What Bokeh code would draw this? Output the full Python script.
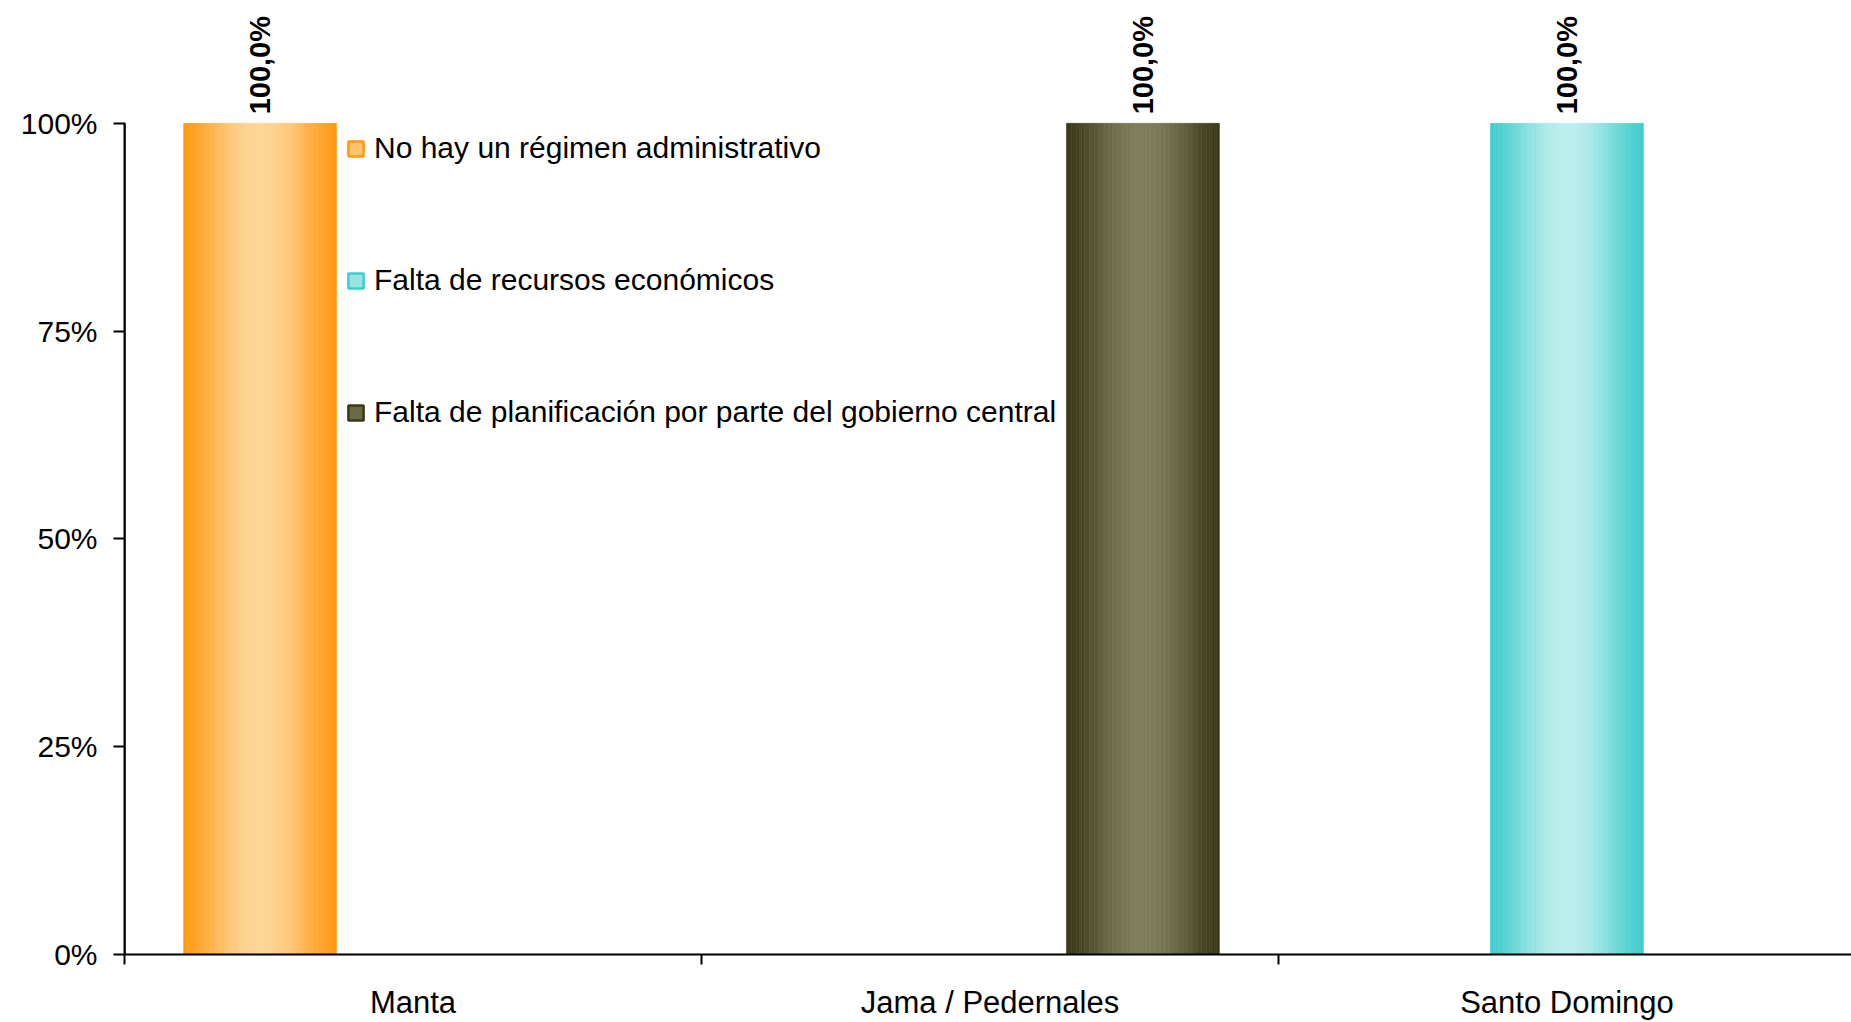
import math
from bokeh.plotting import figure
from bokeh.models import Range1d, FixedTicker, Legend, LegendItem, ColumnDataSource
from bokeh.embed import file_html
from bokeh.resources import INLINE
from bokeh.core.properties import value

# ---------------- data ----------------
categories = ["Manta", "Jama / Pedernales", "Santo Domingo"]
series_names = [
    "No hay un régimen administrativo",
    "Falta de recursos económicos",
    "Falta de planificación por parte del gobierno central",
]
no_regimen = [1.0, 0.0, 0.0]
falta_recursos = [0.0, 0.0, 1.0]
falta_planificacion = [0.0, 1.0, 0.0]
y_ticks = [0.0, 0.25, 0.5, 0.75, 1.0]
y_tick_labels = ["0%", "25%", "50%", "75%", "100%"]

series_values = [no_regimen, falta_recursos, falta_planificacion]

# ---------------- styles ----------------
FONT = "Liberation Sans"
edge_colors = [(255, 153, 18), (62, 206, 204), (58, 58, 24)]
center_colors = [(253, 213, 150), (187, 238, 237), (125, 125, 90)]
bar_w = 0.265
offsets = [-bar_w, 0.0, bar_w]
N_STRIPS = 60

W, H = 1851, 1022
LEFT, BOTTOM = 124, 67
PX_PER_CAT = 577.0
PX_PER_UNIT = 832.0
x_end = (W - LEFT) / PX_PER_CAT
y_end = (H - BOTTOM) / PX_PER_UNIT

p = figure(
    width=W, height=H,
    x_range=Range1d(0, x_end), y_range=Range1d(0, y_end),
    output_backend="svg", toolbar_location=None,
    min_border_left=LEFT, min_border_right=0,
    min_border_top=0, min_border_bottom=BOTTOM,
)
p.outline_line_color = None
p.xgrid.grid_line_color = None
p.ygrid.grid_line_color = None
p.background_fill_color = "white"
p.border_fill_color = "white"


def hexcol(c):
    return "#%02x%02x%02x" % tuple(int(round(v)) for v in c)


def mix(a, b, t):
    return tuple(a[i] + (b[i] - a[i]) * t for i in range(3))


idx = list(range(len(categories)))
legend_items = []
for s, vals in enumerate(series_values):
    e, c = edge_colors[s], center_colors[s]
    # gradient strips
    for k in range(N_STRIPS):
        u = (k + 0.5) / N_STRIPS
        t = math.sin(math.pi * u) ** 1.4
        col = hexcol(mix(e, c, t))
        xs = [i + 0.5 + offsets[s] - bar_w / 2 + u * bar_w for i in idx]
        src = ColumnDataSource(dict(x=xs, top=vals))
        p.vbar(x="x", top="top", bottom=0, width=bar_w / N_STRIPS, source=src,
               fill_color=col, line_color=col, line_width=0.6)
    # legend proxy (placed outside the visible range)
    proxy = p.vbar(x=[-10], top=[1], width=bar_w, fill_color=hexcol(mix(e, c, 0.7)),
                   line_color=hexcol(e), line_width=2.5)
    legend_items.append(LegendItem(label=series_names[s], renderers=[proxy]))

    # value labels
    lx, ly, lt = [], [], []
    for i in idx:
        if vals[i] > 0:
            lx.append(i + 0.5 + offsets[s])
            ly.append(vals[i])
            lt.append(("%.1f%%" % (vals[i] * 100)).replace(".", ","))
    p.text(x=lx, y=ly, text=lt, angle=math.pi / 2, text_align="left",
           text_baseline="middle", y_offset=-9, text_font=value(FONT),
           text_font_size="29px", text_font_style="bold", text_color="black")

# ---------------- axes ----------------
yax = p.yaxis[0]
yax.ticker = FixedTicker(ticks=y_ticks, minor_ticks=[])
yax.major_label_overrides = {t: l for t, l in zip(y_ticks, y_tick_labels)}
yax.bounds = (0, 1)
yax.axis_line_color = "black"
yax.axis_line_width = 2
yax.major_tick_line_color = "black"
yax.major_tick_line_width = 2
yax.major_tick_in = 0
yax.major_tick_out = 11
yax.minor_tick_line_color = None
yax.major_label_standoff = 16
yax.major_label_text_font = FONT
yax.major_label_text_font_size = "30px"
yax.major_label_text_color = "black"

xax = p.xaxis[0]
centers = [i + 0.5 for i in idx]
xax.ticker = FixedTicker(ticks=centers, minor_ticks=[float(i) for i in range(len(categories) + 1)])
xax.major_label_overrides = {c: n for c, n in zip(centers, categories)}
xax.axis_line_color = "black"
xax.axis_line_width = 2
xax.major_tick_line_color = None
xax.major_tick_in = 0
xax.major_tick_out = 10
xax.minor_tick_line_color = "black"
xax.minor_tick_line_width = 2
xax.minor_tick_in = 0
xax.minor_tick_out = 10
xax.major_label_standoff = 20
xax.major_label_text_font = FONT
xax.major_label_text_font_size = "31px"
xax.major_label_text_color = "black"

# ---------------- legend ----------------
legend = Legend(items=legend_items, location=(222, 525))
legend.label_text_font = FONT
legend.label_text_font_size = "30px"
legend.label_text_color = "black"
legend.glyph_width = 19
legend.glyph_height = 19
legend.label_height = 30
legend.label_standoff = 9
legend.spacing = 98
legend.padding = 0
legend.margin = 0
legend.border_line_color = None
legend.background_fill_alpha = 0
p.add_layout(legend)

open("out.html", "w").write(file_html(p, INLINE))
